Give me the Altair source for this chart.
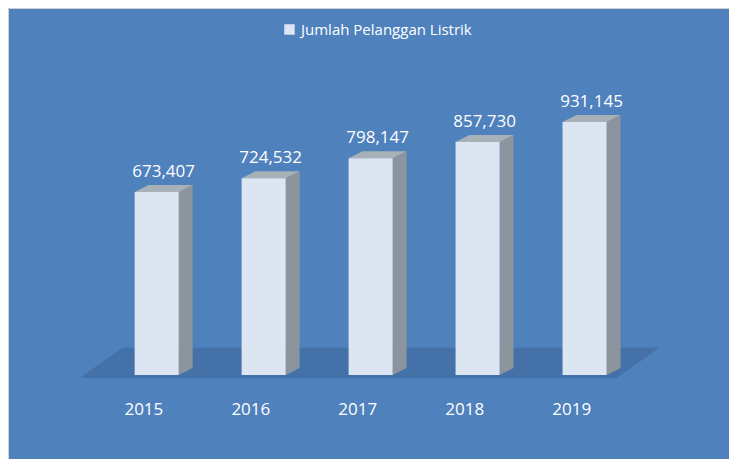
import altair as alt
import pandas as pd

years = ["2015", "2016", "2017", "2018", "2019"]
values = [673407, 724532, 798147, 857730, 931145]
series_name = "Jumlah Pelanggan Listrik"

# box geometry (style constants, in scale units)
HW = 0.206      # half width of front face (x units)
D = 0.13        # horizontal depth of box
DZ = 25760      # vertical depth of box (value units)

front_rows, side_rows, top_rows, lab_rows = [], [], [], []
for i, (yr, v) in enumerate(zip(years, values)):
    xl, xr = i - HW, i + HW
    front_rows.append({"xl": xl, "xr": xr, "v": v, "series": series_name})
    side_rows += [
        {"sid": yr, "x": xr, "lo": 0, "hi": v},
        {"sid": yr, "x": xr + D, "lo": DZ, "hi": v + DZ},
    ]
    top_rows += [
        {"sid": yr, "x": xl, "lo": v, "hi": v},
        {"sid": yr, "x": xl + D, "lo": v, "hi": v + DZ},
        {"sid": yr, "x": xr, "lo": v, "hi": v + DZ},
        {"sid": yr, "x": xr + D, "lo": v + DZ, "hi": v + DZ},
    ]
    lab_rows.append({"xc": i + D / 2, "xy": i - 0.12, "top": v + DZ,
                     "label": f"{v:,}", "year": yr})

FL, FR, FS, FF, FB = -0.72, 4.3, 0.4, -11000, 100000
floor_rows = [
    {"sid": "floor", "x": FL, "lo": FF, "hi": FF},
    {"sid": "floor", "x": FL + FS, "lo": FF, "hi": FB},
    {"sid": "floor", "x": FR, "lo": FF, "hi": FB},
    {"sid": "floor", "x": FR + FS, "lo": FB, "hi": FB},
]

xs = alt.Scale(domain=[-1.39, 5.35], nice=False, zero=False)
ys = alt.Scale(domain=[-309160, 1350700], nice=False, zero=False)

def area_layer(rows, color):
    return alt.Chart(pd.DataFrame(rows)).mark_area(
        orient="vertical", color=color, opacity=1
    ).encode(
        x=alt.X("x:Q", scale=xs, axis=None),
        y=alt.Y("hi:Q", scale=ys, axis=None),
        y2="lo:Q",
        detail="sid:N",
    )

floor = area_layer(floor_rows, "#4571a9")
side = area_layer(side_rows, "#8c959e")
top = area_layer(top_rows, "#a8b0b8")

front = alt.Chart(pd.DataFrame(front_rows)).mark_rect().encode(
    x=alt.X("xl:Q", scale=xs, axis=None),
    x2="xr:Q",
    y=alt.Y("v:Q", scale=ys, axis=None),
    y2=alt.datum(0),
    color=alt.Color(
        "series:N",
        scale=alt.Scale(range=["#dce6f2"]),
        legend=alt.Legend(
            title=None, orient="none", legendX=274, legendY=14,
            symbolType="square", symbolSize=110, symbolStrokeWidth=0,
            labelColor="white", labelFont="Open Sans", labelFontSize=15,
            labelLimit=400, padding=0,
        ),
    ),
)

labels = pd.DataFrame(lab_rows)
val_text = alt.Chart(labels).mark_text(
    color="white", font="Open Sans", fontSize=17, baseline="bottom", dy=-4
).encode(
    x=alt.X("xc:Q", scale=xs, axis=None),
    y=alt.Y("top:Q", scale=ys, axis=None),
    text="label:N",
)

year_text = alt.Chart(labels).mark_text(
    color="white", font="Open Sans", fontSize=17, baseline="middle"
).encode(
    x=alt.X("xy:Q", scale=xs, axis=None),
    y=alt.datum(-128800, scale=ys),
    text="year:N",
)

chart = alt.layer(floor, side, top, front, val_text, year_text).properties(
    width=721, height=451, padding=0,
    autosize=alt.AutoSizeParams(type="fit", contains="padding"),
    background="#4f81bd",
).configure_view(fill="#4f81bd", stroke="#d0d0d0", strokeWidth=1)

chart.save("out.html", embed_options={"renderer": "svg", "actions": False})
